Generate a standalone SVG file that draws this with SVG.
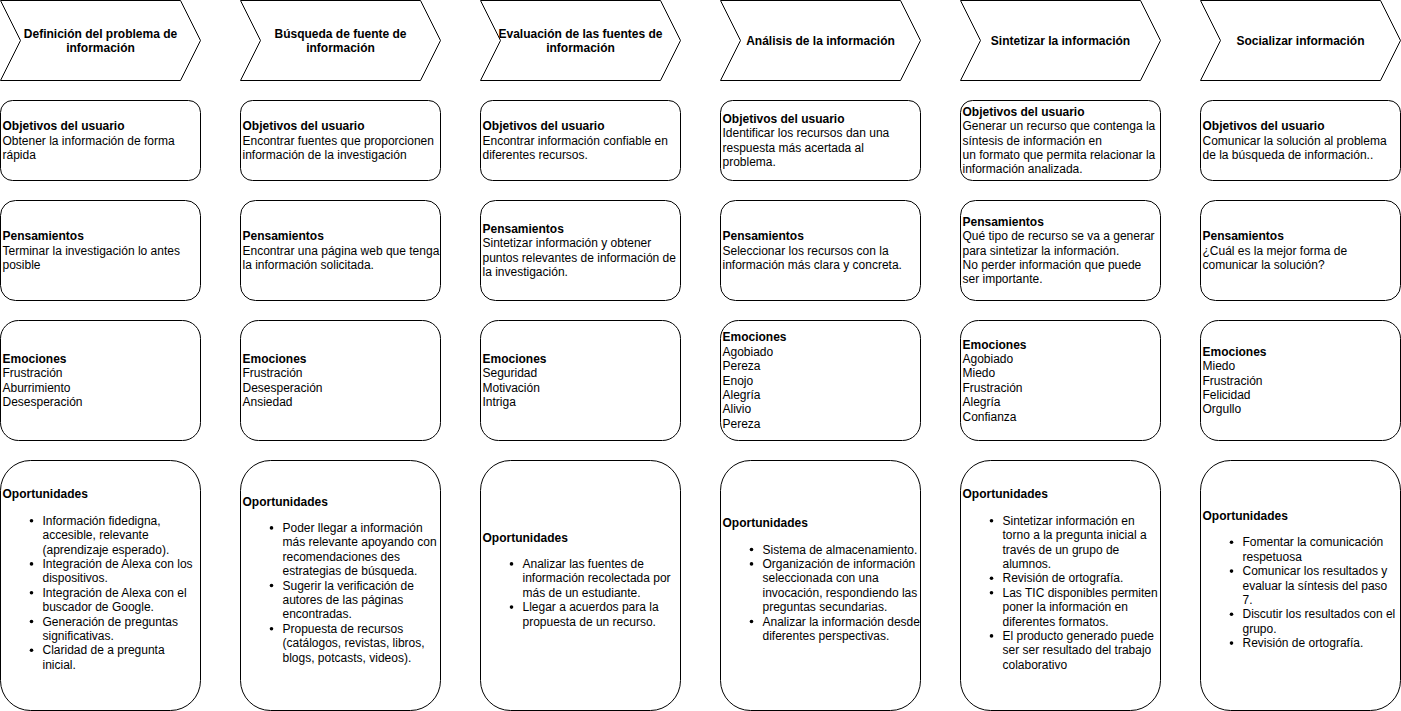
<svg xmlns="http://www.w3.org/2000/svg" width="1401" height="711" viewBox="0 0 1401 711">
<style>
.box{fill:#fff;stroke:#000;stroke-width:1}
.t{font-family:"Liberation Sans",Arial,Helvetica,sans-serif;font-size:12px;fill:#000}
.b{font-weight:bold}
.h{font-weight:bold;text-anchor:middle}
.dot{fill:#000}
</style>
<rect x="0" y="0" width="1401" height="711" fill="#fff"/>
<g transform="translate(0.5,0.5)">
<!-- headers -->
<g id="h1"><path class="box" d="M0 0 H180 L200 40 L180 80 H0 L20 40 Z"/><text class="t h"><tspan x="100" y="37">Definición del problema de</tspan><tspan x="100" y="51.4">información</tspan></text></g>
<g id="h2"><path class="box" d="M240 0 H420 L440 40 L420 80 H240 L260 40 Z"/><text class="t h"><tspan x="340" y="37">Búsqueda de fuente de</tspan><tspan x="340" y="51.4">información</tspan></text></g>
<g id="h3"><path class="box" d="M480 0 H660 L680 40 L660 80 H480 L500 40 Z"/><text class="t h"><tspan x="580" y="37">Evaluación de las fuentes de</tspan><tspan x="580" y="51.4">información</tspan></text></g>
<g id="h4"><path class="box" d="M720 0 H900 L920 40 L900 80 H720 L740 40 Z"/><text class="t h"><tspan x="820" y="44.2">Análisis de la información</tspan></text></g>
<g id="h5"><path class="box" d="M960 0 H1140 L1160 40 L1140 80 H960 L980 40 Z"/><text class="t h"><tspan x="1060" y="44.2">Sintetizar la información</tspan></text></g>
<g id="h6"><path class="box" d="M1200 0 H1380 L1400 40 L1380 80 H1200 L1220 40 Z"/><text class="t h"><tspan x="1300" y="44.2">Socializar información</tspan></text></g>

<!-- row 1: objetivos -->
<g id="obj1"><rect class="box" x="0" y="100" width="200" height="80" rx="12"/><text class="t"><tspan class="b" x="2" y="129.6">Objetivos del usuario</tspan><tspan x="2" y="144">Obtener la información de forma</tspan><tspan x="2" y="158.4">rápida</tspan></text></g>
<g id="obj2"><rect class="box" x="240" y="100" width="200" height="80" rx="12"/><text class="t"><tspan class="b" x="242" y="129.6">Objetivos del usuario</tspan><tspan x="242" y="144">Encontrar fuentes que proporcionen</tspan><tspan x="242" y="158.4">información de la investigación</tspan></text></g>
<g id="obj3"><rect class="box" x="480" y="100" width="200" height="80" rx="12"/><text class="t"><tspan class="b" x="482" y="129.6">Objetivos del usuario</tspan><tspan x="482" y="144">Encontrar información confiable en</tspan><tspan x="482" y="158.4">diferentes recursos.</tspan></text></g>
<g id="obj4"><rect class="box" x="720" y="100" width="200" height="80" rx="12"/><text class="t"><tspan class="b" x="722" y="122.4">Objetivos del usuario</tspan><tspan x="722" y="136.8">Identificar los recursos dan una</tspan><tspan x="722" y="151.2">respuesta más acertada al</tspan><tspan x="722" y="165.6">problema.</tspan></text></g>
<g id="obj5"><rect class="box" x="960" y="100" width="200" height="80" rx="12"/><text class="t"><tspan class="b" x="962" y="115.2">Objetivos del usuario</tspan><tspan x="962" y="129.6">Generar un recurso que contenga la</tspan><tspan x="962" y="144">síntesis de información en</tspan><tspan x="962" y="158.4">un formato que permita relacionar la</tspan><tspan x="962" y="172.8">información analizada.</tspan></text></g>
<g id="obj6"><rect class="box" x="1200" y="100" width="200" height="80" rx="12"/><text class="t"><tspan class="b" x="1202" y="129.6">Objetivos del usuario</tspan><tspan x="1202" y="144">Comunicar la solución al problema</tspan><tspan x="1202" y="158.4">de la búsqueda de información..</tspan></text></g>

<!-- row 2: pensamientos -->
<g id="pen1"><rect class="box" x="0" y="200" width="200" height="100" rx="15"/><text class="t"><tspan class="b" x="2" y="239.6">Pensamientos</tspan><tspan x="2" y="254">Terminar la investigación lo antes</tspan><tspan x="2" y="268.4">posible</tspan></text></g>
<g id="pen2"><rect class="box" x="240" y="200" width="200" height="100" rx="15"/><text class="t"><tspan class="b" x="242" y="239.6">Pensamientos</tspan><tspan x="242" y="254">Encontrar una página web que tenga</tspan><tspan x="242" y="268.4">la información solicitada.</tspan></text></g>
<g id="pen3"><rect class="box" x="480" y="200" width="200" height="100" rx="15"/><text class="t"><tspan class="b" x="482" y="232.4">Pensamientos</tspan><tspan x="482" y="246.8">Sintetizar información y obtener</tspan><tspan x="482" y="261.2">puntos relevantes de información de</tspan><tspan x="482" y="275.6">la investigación.</tspan></text></g>
<g id="pen4"><rect class="box" x="720" y="200" width="200" height="100" rx="15"/><text class="t"><tspan class="b" x="722" y="239.6">Pensamientos</tspan><tspan x="722" y="254">Seleccionar los recursos con la</tspan><tspan x="722" y="268.4">información más clara y concreta.</tspan></text></g>
<g id="pen5"><rect class="box" x="960" y="200" width="200" height="100" rx="15"/><text class="t"><tspan class="b" x="962" y="225.2">Pensamientos</tspan><tspan x="962" y="239.6">Qué tipo de recurso se va a generar</tspan><tspan x="962" y="254">para sintetizar la información.</tspan><tspan x="962" y="268.4">No perder información que puede</tspan><tspan x="962" y="282.8">ser importante.</tspan></text></g>
<g id="pen6"><rect class="box" x="1200" y="200" width="200" height="100" rx="15"/><text class="t"><tspan class="b" x="1202" y="239.6">Pensamientos</tspan><tspan x="1202" y="254">¿Cuál es la mejor forma de</tspan><tspan x="1202" y="268.4">comunicar la solución?</tspan></text></g>

<!-- row 3: emociones -->
<g id="emo1"><rect class="box" x="0" y="320" width="200" height="120" rx="18"/><text class="t"><tspan class="b" x="2" y="362.4">Emociones</tspan><tspan x="2" y="376.8">Frustración</tspan><tspan x="2" y="391.2">Aburrimiento</tspan><tspan x="2" y="405.6">Desesperación</tspan></text></g>
<g id="emo2"><rect class="box" x="240" y="320" width="200" height="120" rx="18"/><text class="t"><tspan class="b" x="242" y="362.4">Emociones</tspan><tspan x="242" y="376.8">Frustración</tspan><tspan x="242" y="391.2">Desesperación</tspan><tspan x="242" y="405.6">Ansiedad</tspan></text></g>
<g id="emo3"><rect class="box" x="480" y="320" width="200" height="120" rx="18"/><text class="t"><tspan class="b" x="482" y="362.4">Emociones</tspan><tspan x="482" y="376.8">Seguridad</tspan><tspan x="482" y="391.2">Motivación</tspan><tspan x="482" y="405.6">Intriga</tspan></text></g>
<g id="emo4"><rect class="box" x="720" y="320" width="200" height="120" rx="18"/><text class="t"><tspan class="b" x="722" y="340.8">Emociones</tspan><tspan x="722" y="355.2">Agobiado</tspan><tspan x="722" y="369.6">Pereza</tspan><tspan x="722" y="384">Enojo</tspan><tspan x="722" y="398.4">Alegría</tspan><tspan x="722" y="412.8">Alivio</tspan><tspan x="722" y="427.2">Pereza</tspan></text></g>
<g id="emo5"><rect class="box" x="960" y="320" width="200" height="120" rx="18"/><text class="t"><tspan class="b" x="962" y="348">Emociones</tspan><tspan x="962" y="362.4">Agobiado</tspan><tspan x="962" y="376.8">Miedo</tspan><tspan x="962" y="391.2">Frustración</tspan><tspan x="962" y="405.6">Alegría</tspan><tspan x="962" y="420">Confianza</tspan></text></g>
<g id="emo6"><rect class="box" x="1200" y="320" width="200" height="120" rx="18"/><text class="t"><tspan class="b" x="1202" y="355.2">Emociones</tspan><tspan x="1202" y="369.6">Miedo</tspan><tspan x="1202" y="384">Frustración</tspan><tspan x="1202" y="398.4">Felicidad</tspan><tspan x="1202" y="412.8">Orgullo</tspan></text></g>

<!-- row 4: oportunidades -->
<g id="op1"><rect class="box" x="0" y="460" width="200" height="250" rx="30"/>
<text class="t"><tspan class="b" x="2" y="497.8">Oportunidades</tspan>
<tspan x="42" y="524.2">Información fidedigna,</tspan><tspan x="42" y="538.6">accesible, relevante</tspan><tspan x="42" y="553">(aprendizaje esperado).</tspan>
<tspan x="42" y="567.4">Integración de Alexa con los</tspan><tspan x="42" y="581.8">dispositivos.</tspan>
<tspan x="42" y="596.2">Integración de Alexa con el</tspan><tspan x="42" y="610.6">buscador de Google.</tspan>
<tspan x="42" y="625">Generación de preguntas</tspan><tspan x="42" y="639.4">significativas.</tspan>
<tspan x="42" y="653.8">Claridad de a pregunta</tspan><tspan x="42" y="668.2">inicial.</tspan></text>
<circle class="dot" cx="31" cy="520.2" r="1.8"/><circle class="dot" cx="31" cy="563.4" r="1.8"/><circle class="dot" cx="31" cy="592.2" r="1.8"/><circle class="dot" cx="31" cy="621" r="1.8"/><circle class="dot" cx="31" cy="649.8" r="1.8"/></g>

<g id="op2"><rect class="box" x="240" y="460" width="200" height="250" rx="30"/>
<text class="t"><tspan class="b" x="242" y="505">Oportunidades</tspan>
<tspan x="282" y="531.4">Poder llegar a información</tspan><tspan x="282" y="545.8">más relevante apoyando con</tspan><tspan x="282" y="560.2">recomendaciones des</tspan><tspan x="282" y="574.6">estrategias de búsqueda.</tspan>
<tspan x="282" y="589">Sugerir la verificación de</tspan><tspan x="282" y="603.4">autores de las páginas</tspan><tspan x="282" y="617.8">encontradas.</tspan>
<tspan x="282" y="632.2">Propuesta de recursos</tspan><tspan x="282" y="646.6">(catálogos, revistas, libros,</tspan><tspan x="282" y="661">blogs, potcasts, videos).</tspan></text>
<circle class="dot" cx="271" cy="527.4" r="1.8"/><circle class="dot" cx="271" cy="585" r="1.8"/><circle class="dot" cx="271" cy="628.2" r="1.8"/></g>

<g id="op3"><rect class="box" x="480" y="460" width="200" height="250" rx="30"/>
<text class="t"><tspan class="b" x="482" y="541">Oportunidades</tspan>
<tspan x="522" y="567.4">Analizar las fuentes de</tspan><tspan x="522" y="581.8">información recolectada por</tspan><tspan x="522" y="596.2">más de un estudiante.</tspan>
<tspan x="522" y="610.6">Llegar a acuerdos para la</tspan><tspan x="522" y="625">propuesta de un recurso.</tspan></text>
<circle class="dot" cx="511" cy="563.4" r="1.8"/><circle class="dot" cx="511" cy="606.6" r="1.8"/></g>

<g id="op4"><rect class="box" x="720" y="460" width="200" height="250" rx="30"/>
<text class="t"><tspan class="b" x="722" y="526.6">Oportunidades</tspan>
<tspan x="762" y="553">Sistema de almacenamiento.</tspan>
<tspan x="762" y="567.4">Organización de información</tspan><tspan x="762" y="581.8">seleccionada con una</tspan><tspan x="762" y="596.2">invocación, respondiendo las</tspan><tspan x="762" y="610.6">preguntas secundarias.</tspan>
<tspan x="762" y="625">Analizar la información desde</tspan><tspan x="762" y="639.4">diferentes perspectivas.</tspan></text>
<circle class="dot" cx="751" cy="549" r="1.8"/><circle class="dot" cx="751" cy="563.4" r="1.8"/><circle class="dot" cx="751" cy="621" r="1.8"/></g>

<g id="op5"><rect class="box" x="960" y="460" width="200" height="250" rx="30"/>
<text class="t"><tspan class="b" x="962" y="497.8">Oportunidades</tspan>
<tspan x="1002" y="524.2">Sintetizar información en</tspan><tspan x="1002" y="538.6">torno a la pregunta inicial a</tspan><tspan x="1002" y="553">través de un grupo de</tspan><tspan x="1002" y="567.4">alumnos.</tspan>
<tspan x="1002" y="581.8">Revisión de ortografía.</tspan>
<tspan x="1002" y="596.2">Las TIC disponibles permiten</tspan><tspan x="1002" y="610.6">poner la información en</tspan><tspan x="1002" y="625">diferentes formatos.</tspan>
<tspan x="1002" y="639.4">El producto generado puede</tspan><tspan x="1002" y="653.8">ser ser resultado del trabajo</tspan><tspan x="1002" y="668.2">colaborativo</tspan></text>
<circle class="dot" cx="991" cy="520.2" r="1.8"/><circle class="dot" cx="991" cy="577.8" r="1.8"/><circle class="dot" cx="991" cy="592.2" r="1.8"/><circle class="dot" cx="991" cy="635.4" r="1.8"/></g>

<g id="op6"><rect class="box" x="1200" y="460" width="200" height="250" rx="30"/>
<text class="t"><tspan class="b" x="1202" y="519.4">Oportunidades</tspan>
<tspan x="1242" y="545.8">Fomentar la comunicación</tspan><tspan x="1242" y="560.2">respetuosa</tspan>
<tspan x="1242" y="574.6">Comunicar los resultados y</tspan><tspan x="1242" y="589">evaluar la síntesis del paso</tspan><tspan x="1242" y="603.4">7.</tspan>
<tspan x="1242" y="617.8">Discutir los resultados con el</tspan><tspan x="1242" y="632.2">grupo.</tspan>
<tspan x="1242" y="646.6">Revisión de ortografía.</tspan></text>
<circle class="dot" cx="1231" cy="541.8" r="1.8"/><circle class="dot" cx="1231" cy="570.6" r="1.8"/><circle class="dot" cx="1231" cy="613.8" r="1.8"/><circle class="dot" cx="1231" cy="642.6" r="1.8"/></g>
</g>
</svg>
